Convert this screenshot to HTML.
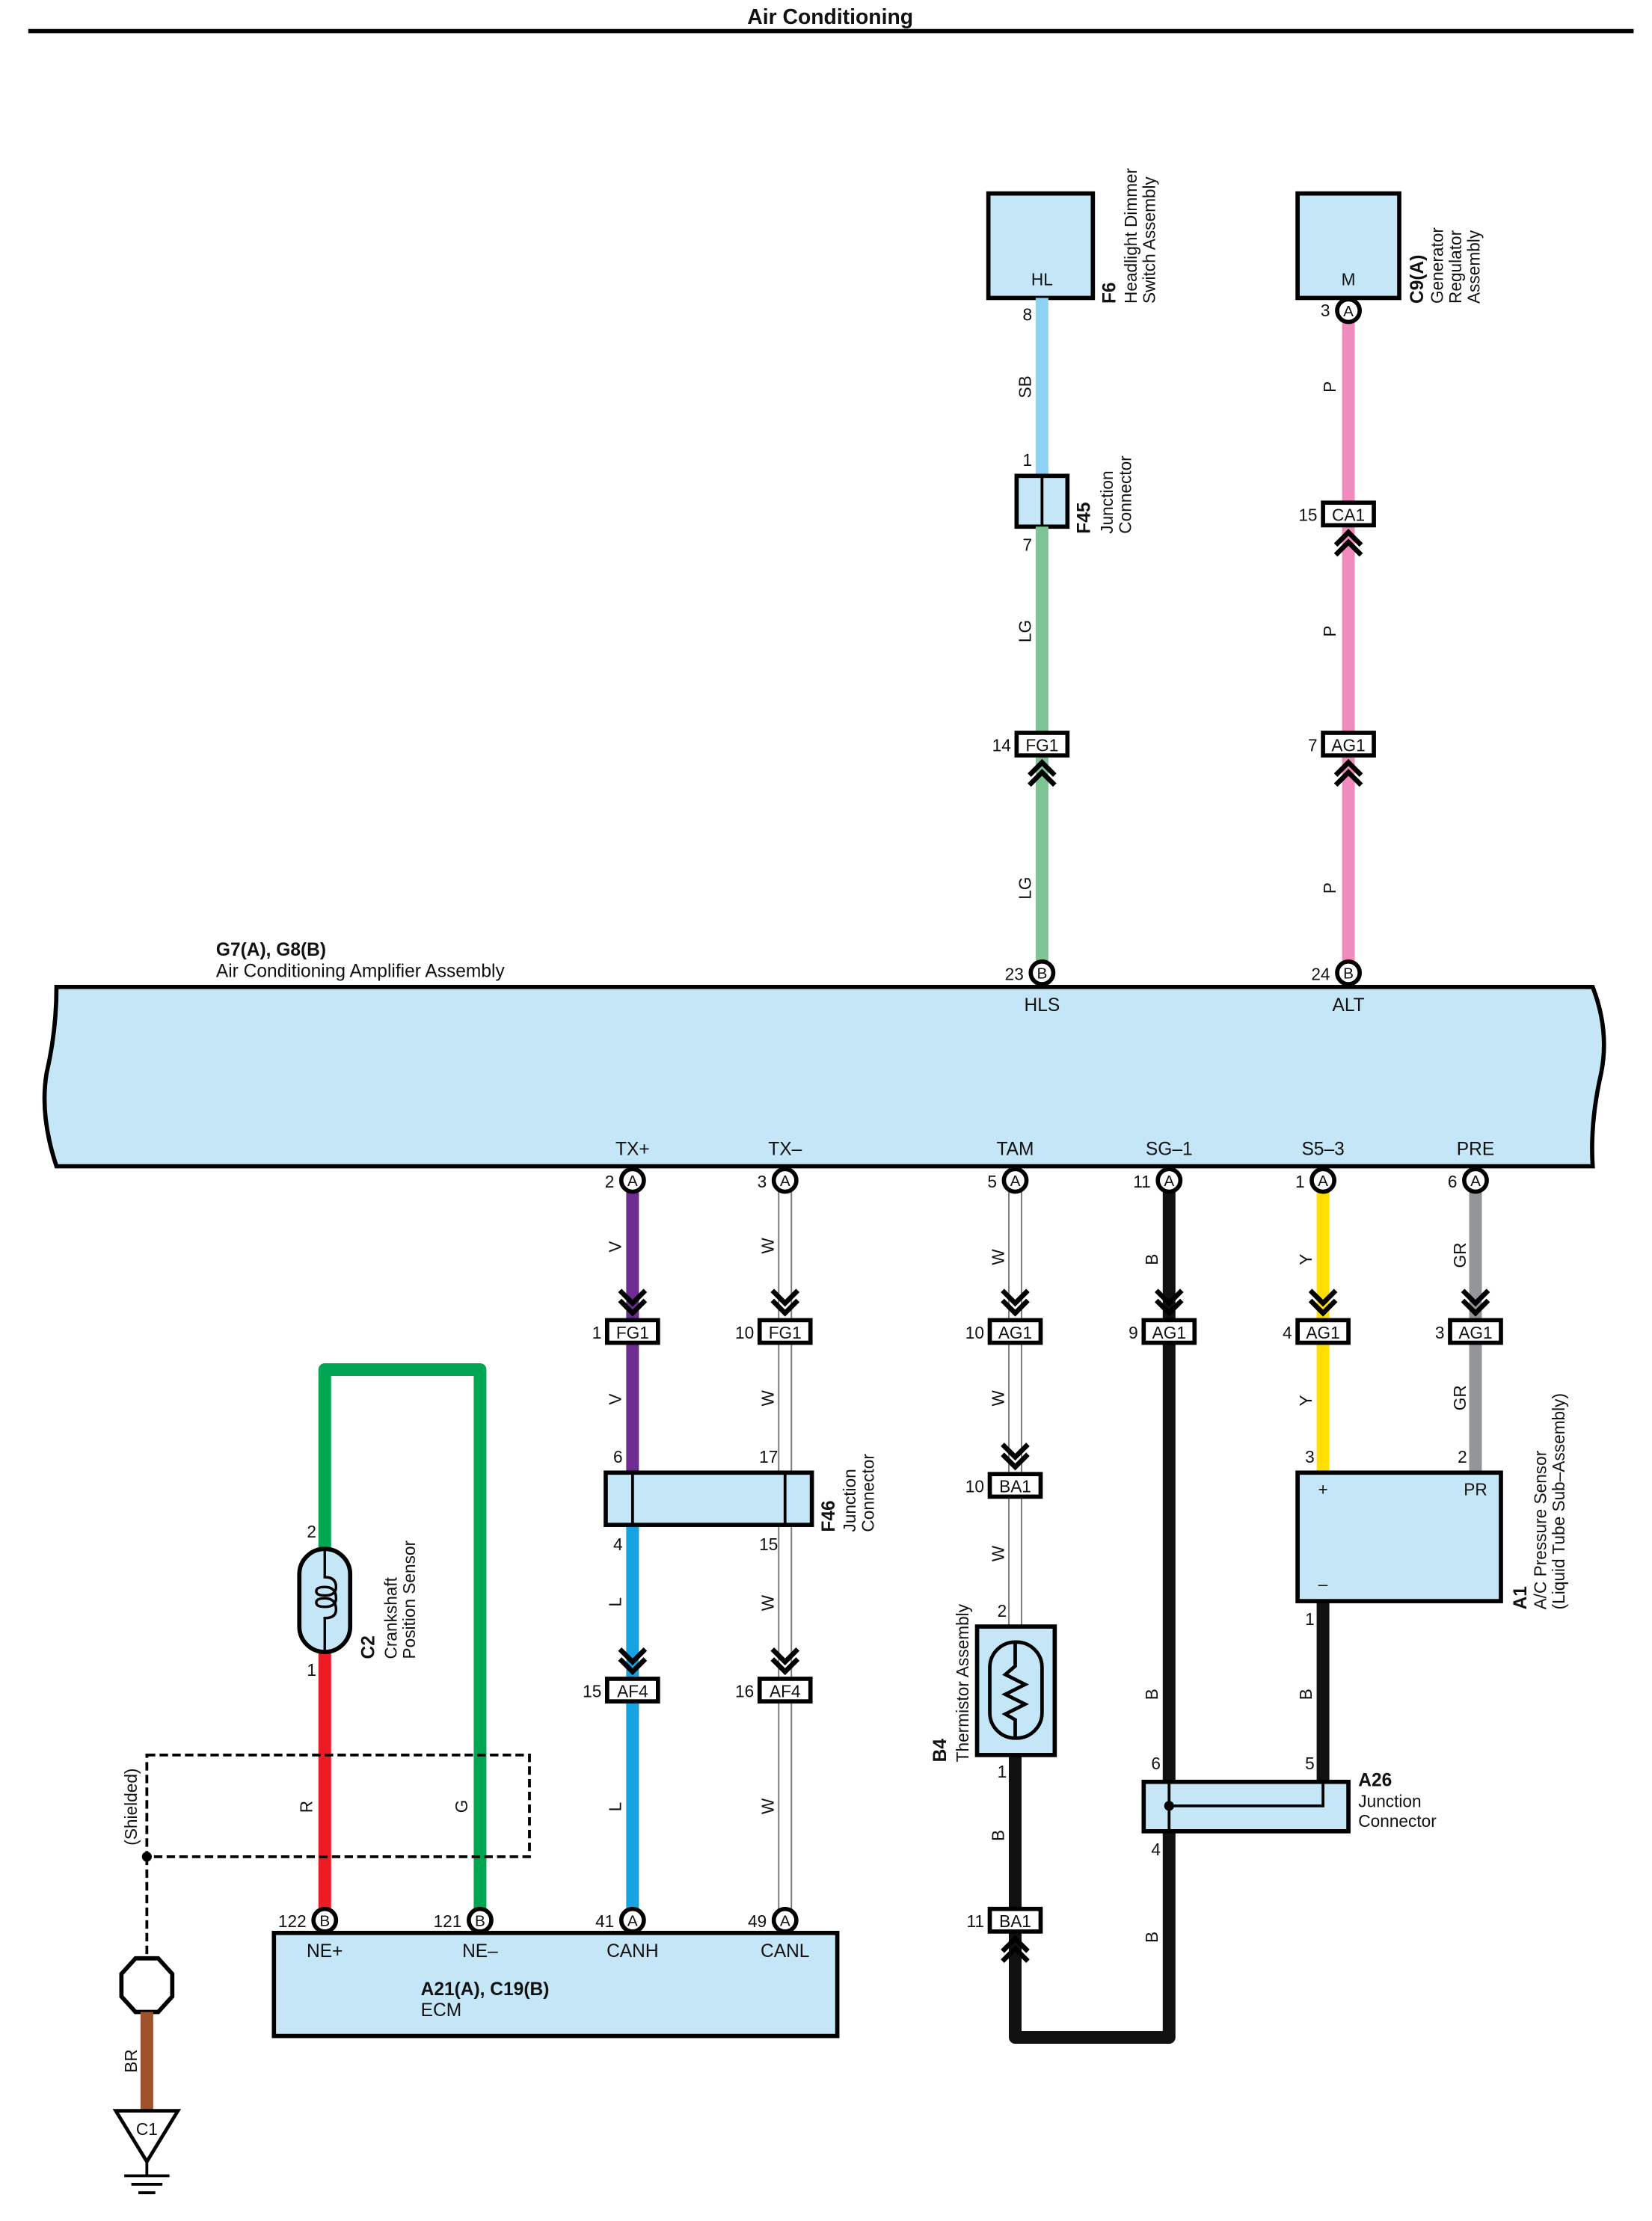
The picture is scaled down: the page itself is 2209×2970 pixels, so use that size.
<!DOCTYPE html>
<html><head><meta charset="utf-8"><style>
html,body{margin:0;padding:0;background:#fff;}
svg{display:block;}
text{font-family:"Liberation Sans",sans-serif;fill:#111;}
</style></head><body>
<svg width="2209" height="2970" viewBox="0 0 1170 1573" xmlns="http://www.w3.org/2000/svg">
<rect width="1170" height="1573" fill="#fff"/>
<text x="588" y="17" font-size="15" font-weight="bold" text-anchor="middle">Air Conditioning</text>
<line x1="20" y1="22" x2="1157" y2="22" stroke="#000" stroke-width="3"/>

<!-- Big amplifier box -->
<path d="M40,699 L1128,699 Q1140,730 1134,760 Q1126,795 1128,826 L40,826 Q28,790 33,760 Q40,730 40,699 Z" fill="#c5e6f7" stroke="#000" stroke-width="3"/>
<text x="153" y="677" font-size="13" font-weight="bold">G7(A), G8(B)</text>
<text x="153" y="692" font-size="13">Air Conditioning Amplifier Assembly</text>
<text x="738" y="716" font-size="13" text-anchor="middle">HLS</text>
<text x="955" y="716" font-size="13" text-anchor="middle">ALT</text>
<g font-size="13" text-anchor="middle">
<text x="448" y="818">TX+</text><text x="556" y="818">TX–</text><text x="719" y="818">TAM</text>
<text x="828" y="818">SG–1</text><text x="937" y="818">S5–3</text><text x="1045" y="818">PRE</text>
</g>

<!-- F6 -->
<rect x="700" y="137" width="74" height="74" fill="#c5e6f7" stroke="#000" stroke-width="3"/>
<text x="738" y="202" font-size="12" text-anchor="middle">HL</text>
<g transform="translate(790,215) rotate(-90)"><text font-size="13" font-weight="bold">F6</text></g>
<g transform="translate(805,215) rotate(-90)"><text font-size="12">Headlight Dimmer</text></g>
<g transform="translate(818,215) rotate(-90)"><text font-size="12">Switch Assembly</text></g>
<text x="731" y="227" font-size="12" text-anchor="end">8</text>
<line x1="738" y1="211" x2="738" y2="337" stroke="#8fd3f4" stroke-width="9"/>
<g transform="translate(730,282) rotate(-90)"><text font-size="12">SB</text></g>
<text x="731" y="330" font-size="12" text-anchor="end">1</text>
<rect x="720" y="337" width="36" height="36" fill="#c5e6f7" stroke="#000" stroke-width="3"/>
<line x1="738" y1="337" x2="738" y2="373" stroke="#000" stroke-width="2"/>
<g transform="translate(772,378) rotate(-90)"><text font-size="13" font-weight="bold">F45</text></g>
<g transform="translate(788,378) rotate(-90)"><text font-size="12">Junction</text></g>
<g transform="translate(801,378) rotate(-90)"><text font-size="12">Connector</text></g>
<text x="731" y="390" font-size="12" text-anchor="end">7</text>
<line x1="738" y1="373" x2="738" y2="519" stroke="#7dc592" stroke-width="9"/>
<line x1="738" y1="535" x2="738" y2="681" stroke="#7dc592" stroke-width="9"/>
<g transform="translate(730,455) rotate(-90)"><text font-size="12">LG</text></g>
<g transform="translate(730,637) rotate(-90)"><text font-size="12">LG</text></g>

<!-- C9 -->
<rect x="919" y="137" width="72" height="74" fill="#c5e6f7" stroke="#000" stroke-width="3"/>
<text x="955" y="202" font-size="12" text-anchor="middle">M</text>
<g transform="translate(1008,215) rotate(-90)"><text font-size="13" font-weight="bold">C9(A)</text></g>
<g transform="translate(1022,215) rotate(-90)"><text font-size="12">Generator</text></g>
<g transform="translate(1035,215) rotate(-90)"><text font-size="12">Regulator</text></g>
<g transform="translate(1048,215) rotate(-90)"><text font-size="12">Assembly</text></g>
<line x1="955" y1="228" x2="955" y2="681" stroke="#f28bbd" stroke-width="9"/>
<g transform="translate(946,278) rotate(-90)"><text font-size="12">P</text></g>
<g transform="translate(946,451) rotate(-90)"><text font-size="12">P</text></g>
<g transform="translate(946,633) rotate(-90)"><text font-size="12">P</text></g>

<!-- bottom wires -->
<line x1="448" y1="844" x2="448" y2="1043" stroke="#6e2b90" stroke-width="9"/>
<line x1="448" y1="1080" x2="448" y2="1352" stroke="#15a3e1" stroke-width="9"/>
<line x1="556" y1="844" x2="556" y2="1352" stroke="#777" stroke-width="10"/>
<line x1="556" y1="844" x2="556" y2="1352" stroke="#fff" stroke-width="8"/>
<line x1="719" y1="844" x2="719" y2="1152" stroke="#777" stroke-width="10"/>
<line x1="719" y1="844" x2="719" y2="1152" stroke="#fff" stroke-width="8"/>
<line x1="828" y1="844" x2="828" y2="1262" stroke="#111" stroke-width="9"/>
<path d="M719,1243 L719,1443 L828,1443 L828,1297" fill="none" stroke="#111" stroke-width="9" stroke-linejoin="round"/>
<line x1="937" y1="844" x2="937" y2="1043" stroke="#ffde00" stroke-width="9"/>
<line x1="937" y1="1134" x2="937" y2="1262" stroke="#111" stroke-width="9"/>
<line x1="1045" y1="844" x2="1045" y2="1043" stroke="#939598" stroke-width="9"/>

<g font-size="12">
<g transform="translate(440,887) rotate(-90)"><text>V</text></g>
<g transform="translate(440,995) rotate(-90)"><text>V</text></g>
<g transform="translate(440,1138) rotate(-90)"><text>L</text></g>
<g transform="translate(440,1283) rotate(-90)"><text>L</text></g>
<g transform="translate(548,888) rotate(-90)"><text>W</text></g>
<g transform="translate(548,996) rotate(-90)"><text>W</text></g>
<g transform="translate(548,1141) rotate(-90)"><text>W</text></g>
<g transform="translate(548,1285) rotate(-90)"><text>W</text></g>
<g transform="translate(711,896) rotate(-90)"><text>W</text></g>
<g transform="translate(711,996) rotate(-90)"><text>W</text></g>
<g transform="translate(711,1106) rotate(-90)"><text>W</text></g>
<g transform="translate(711,1304) rotate(-90)"><text>B</text></g>
<g transform="translate(820,896) rotate(-90)"><text>B</text></g>
<g transform="translate(820,1204) rotate(-90)"><text>B</text></g>
<g transform="translate(820,1376) rotate(-90)"><text>B</text></g>
<g transform="translate(929,896) rotate(-90)"><text>Y</text></g>
<g transform="translate(929,996) rotate(-90)"><text>Y</text></g>
<g transform="translate(929,1204) rotate(-90)"><text>B</text></g>
<g transform="translate(1038,898) rotate(-90)"><text>GR</text></g>
<g transform="translate(1038,999) rotate(-90)"><text>GR</text></g>
</g>

<!-- F46 -->
<rect x="429" y="1043" width="146" height="37" fill="#c5e6f7" stroke="#000" stroke-width="3"/>
<line x1="448" y1="1043" x2="448" y2="1080" stroke="#000" stroke-width="2"/>
<line x1="556" y1="1043" x2="556" y2="1080" stroke="#000" stroke-width="2"/>
<g font-size="12" text-anchor="end">
<text x="441" y="1036">6</text><text x="551" y="1036">17</text>
<text x="441" y="1098">4</text><text x="551" y="1098">15</text>
</g>
<g transform="translate(591,1085) rotate(-90)"><text font-size="13" font-weight="bold">F46</text></g>
<g transform="translate(606,1085) rotate(-90)"><text font-size="12">Junction</text></g>
<g transform="translate(619,1085) rotate(-90)"><text font-size="12">Connector</text></g>

<!-- Thermistor -->
<text x="713" y="1145" font-size="12" text-anchor="end">2</text>
<rect x="692" y="1152" width="55" height="91" fill="#c5e6f7" stroke="#000" stroke-width="3"/>
<rect x="701" y="1163" width="37" height="68" rx="18" fill="none" stroke="#000" stroke-width="2.5"/>
<path d="M719,1163 L719,1180 L712,1186 L726,1193 L712,1200 L726,1207 L712,1214 L719,1218 L719,1231" fill="none" stroke="#000" stroke-width="2.5"/>
<text x="713" y="1259" font-size="12" text-anchor="end">1</text>
<g transform="translate(670,1248) rotate(-90)"><text font-size="13" font-weight="bold">B4</text></g>
<g transform="translate(686,1248) rotate(-90)"><text font-size="12">Thermistor Assembly</text></g>

<!-- A26 -->
<text x="822" y="1253" font-size="12" text-anchor="end">6</text>
<text x="931" y="1253" font-size="12" text-anchor="end">5</text>
<text x="822" y="1314" font-size="12" text-anchor="end">4</text>
<rect x="810" y="1262" width="145" height="35" fill="#c5e6f7" stroke="#000" stroke-width="3"/>
<path d="M828,1279 L937,1279 L937,1262" fill="none" stroke="#000" stroke-width="2"/>
<line x1="828" y1="1262" x2="828" y2="1297" stroke="#000" stroke-width="2"/>
<circle cx="828" cy="1279" r="3.5" fill="#000"/>
<text x="962" y="1265" font-size="13" font-weight="bold">A26</text>
<text x="962" y="1280" font-size="12">Junction</text>
<text x="962" y="1294" font-size="12">Connector</text>

<!-- A1 -->
<text x="931" y="1036" font-size="12" text-anchor="end">3</text>
<text x="1039" y="1036" font-size="12" text-anchor="end">2</text>
<rect x="919" y="1043" width="144" height="91" fill="#c5e6f7" stroke="#000" stroke-width="3"/>
<text x="937" y="1059" font-size="12" text-anchor="middle">+</text>
<text x="1045" y="1059" font-size="12" text-anchor="middle">PR</text>
<text x="937" y="1126" font-size="12" text-anchor="middle">–</text>
<text x="931" y="1151" font-size="12" text-anchor="end">1</text>
<g transform="translate(1081,1140) rotate(-90)"><text font-size="13" font-weight="bold">A1</text></g>
<g transform="translate(1095,1140) rotate(-90)"><text font-size="12">A/C Pressure Sensor</text></g>
<g transform="translate(1108,1140) rotate(-90)"><text font-size="12">(Liquid Tube Sub–Assembly)</text></g>

<!-- Crankshaft -->
<path d="M340,1352 L340,970 L230,970 L230,1097" fill="none" stroke="#00a651" stroke-width="9" stroke-linejoin="round"/>
<line x1="230" y1="1170" x2="230" y2="1352" stroke="#ed1c24" stroke-width="9"/>
<text x="224" y="1089" font-size="12" text-anchor="end">2</text>
<text x="224" y="1187" font-size="12" text-anchor="end">1</text>
<rect x="212" y="1097" width="36" height="73" rx="18" fill="#c5e6f7" stroke="#000" stroke-width="3"/>
<path d="M230,1097 L230,1117 Q238,1117 238,1124 Q238,1130 230,1130 Q224,1130 224,1127 Q224,1124 230,1124 Q238,1124 238,1132 Q238,1138 230,1138 Q224,1138 224,1135 Q224,1132 230,1132 Q238,1132 238,1140 Q238,1146 230,1146 L230,1170" fill="none" stroke="#000" stroke-width="1.8"/>
<g transform="translate(265,1175) rotate(-90)"><text font-size="13" font-weight="bold">C2</text></g>
<g transform="translate(281,1175) rotate(-90)"><text font-size="12">Crankshaft</text></g>
<g transform="translate(294,1175) rotate(-90)"><text font-size="12">Position Sensor</text></g>
<g transform="translate(221,1284) rotate(-90)"><text font-size="12">R</text></g>
<g transform="translate(331,1284) rotate(-90)"><text font-size="12">G</text></g>
<rect x="104" y="1243" width="271" height="72" fill="none" stroke="#000" stroke-width="2" stroke-dasharray="6,3"/>
<line x1="104" y1="1315" x2="104" y2="1386" stroke="#000" stroke-width="2" stroke-dasharray="6,3"/>
<circle cx="104" cy="1315" r="3.5" fill="#000"/>
<g transform="translate(97,1307) rotate(-90)"><text font-size="12">(Shielded)</text></g>
<polygon points="96,1387 112,1387 122,1398 122,1414 112,1425 96,1425 86,1414 86,1398" fill="#fff" stroke="#000" stroke-width="3"/>
<line x1="104" y1="1425" x2="104" y2="1494" stroke="#a0522d" stroke-width="9"/>
<g transform="translate(97,1468) rotate(-90)"><text font-size="12">BR</text></g>
<polygon points="82,1495 126,1495 104,1531" fill="#fff" stroke="#000" stroke-width="2.5"/>
<text x="104" y="1512" font-size="12" text-anchor="middle">C1</text>
<line x1="104" y1="1531" x2="104" y2="1541" stroke="#000" stroke-width="2"/>
<line x1="88" y1="1541" x2="120" y2="1541" stroke="#000" stroke-width="2"/>
<line x1="93" y1="1547" x2="115" y2="1547" stroke="#000" stroke-width="2"/>
<line x1="98" y1="1553" x2="110" y2="1553" stroke="#000" stroke-width="2"/>

<!-- ECM -->
<rect x="194" y="1369" width="399" height="73" fill="#c5e6f7" stroke="#000" stroke-width="3"/>
<g font-size="13" text-anchor="middle">
<text x="230" y="1386">NE+</text><text x="340" y="1386">NE–</text><text x="448" y="1386">CANH</text><text x="556" y="1386">CANL</text>
</g>
<text x="298" y="1413" font-size="13" font-weight="bold">A21(A), C19(B)</text>
<text x="298" y="1428" font-size="13">ECM</text>

<!-- Connector boxes -->
<g stroke="#000" stroke-width="3" fill="#fff">
<rect x="720" y="519" width="36" height="16"/>
<rect x="937" y="356" width="36" height="16"/>
<rect x="937" y="519" width="36" height="16"/>
<rect x="430" y="935" width="36" height="16"/>
<rect x="538" y="935" width="36" height="16"/>
<rect x="701" y="935" width="36" height="16"/>
<rect x="810" y="935" width="36" height="16"/>
<rect x="919" y="935" width="36" height="16"/>
<rect x="1027" y="935" width="36" height="16"/>
<rect x="701" y="1044" width="36" height="16"/>
<rect x="430" y="1189" width="36" height="16"/>
<rect x="538" y="1189" width="36" height="16"/>
<rect x="701" y="1352" width="36" height="16"/>
</g>
<g font-size="12" text-anchor="middle">
<text x="738" y="532">FG1</text><text x="955" y="369">CA1</text><text x="955" y="532">AG1</text>
<text x="448" y="948">FG1</text><text x="556" y="948">FG1</text><text x="719" y="948">AG1</text>
<text x="828" y="948">AG1</text><text x="937" y="948">AG1</text><text x="1045" y="948">AG1</text>
<text x="719" y="1057">BA1</text><text x="448" y="1202">AF4</text><text x="556" y="1202">AF4</text>
<text x="719" y="1365">BA1</text>
</g>
<g font-size="12" text-anchor="end">
<text x="716" y="532">14</text><text x="933" y="369">15</text><text x="933" y="532">7</text>
<text x="426" y="948">1</text><text x="534" y="948">10</text><text x="697" y="948">10</text>
<text x="806" y="948">9</text><text x="915" y="948">4</text><text x="1023" y="948">3</text>
<text x="697" y="1057">10</text><text x="426" y="1202">15</text><text x="534" y="1202">16</text>
<text x="697" y="1365">11</text>
</g>

<!-- Chevrons -->
<g fill="none" stroke="#000" stroke-width="3.5">
<path d="M729,549 L738,540 L747,549 M729,556 L738,547 L747,556"/>
<path d="M946,386 L955,377 L964,386 M946,393 L955,384 L964,393"/>
<path d="M946,549 L955,540 L964,549 M946,556 L955,547 L964,556"/>
<path d="M710,1382 L719,1373 L728,1382 M710,1389 L719,1380 L728,1389"/>
<path d="M439,914 L448,923 L457,914 M439,921 L448,930 L457,921"/>
<path d="M547,914 L556,923 L565,914 M547,921 L556,930 L565,921"/>
<path d="M710,914 L719,923 L728,914 M710,921 L719,930 L728,921"/>
<path d="M819,914 L828,923 L837,914 M819,921 L828,930 L837,921"/>
<path d="M928,914 L937,923 L946,914 M928,921 L937,930 L946,921"/>
<path d="M1036,914 L1045,923 L1054,914 M1036,921 L1045,930 L1054,921"/>
<path d="M710,1023 L719,1032 L728,1023 M710,1030 L719,1039 L728,1030"/>
<path d="M439,1168 L448,1177 L457,1168 M439,1175 L448,1184 L457,1175"/>
<path d="M547,1168 L556,1177 L565,1168 M547,1175 L556,1184 L565,1175"/>
</g>

<!-- Pin circles -->
<g stroke="#000" stroke-width="3" fill="#fff">
<circle cx="955" cy="220" r="8"/>
<circle cx="738" cy="689" r="8"/><circle cx="955" cy="689" r="8"/>
<circle cx="448" cy="836" r="8"/><circle cx="556" cy="836" r="8"/><circle cx="719" cy="836" r="8"/>
<circle cx="828" cy="836" r="8"/><circle cx="937" cy="836" r="8"/><circle cx="1045" cy="836" r="8"/>
<circle cx="230" cy="1360" r="8"/><circle cx="340" cy="1360" r="8"/>
<circle cx="448" cy="1360" r="8"/><circle cx="556" cy="1360" r="8"/>
</g>
<g font-size="11" text-anchor="middle">
<text x="955" y="224">A</text>
<text x="738" y="693">B</text><text x="955" y="693">B</text>
<text x="448" y="840">A</text><text x="556" y="840">A</text><text x="719" y="840">A</text>
<text x="828" y="840">A</text><text x="937" y="840">A</text><text x="1045" y="840">A</text>
<text x="230" y="1364">B</text><text x="340" y="1364">B</text><text x="448" y="1364">A</text><text x="556" y="1364">A</text>
</g>
<g font-size="12" text-anchor="end">
<text x="942" y="224">3</text>
<text x="725" y="694">23</text><text x="942" y="694">24</text>
<text x="435" y="841">2</text><text x="543" y="841">3</text><text x="706" y="841">5</text>
<text x="815" y="841">11</text><text x="924" y="841">1</text><text x="1032" y="841">6</text>
<text x="217" y="1365">122</text><text x="327" y="1365">121</text><text x="435" y="1365">41</text><text x="543" y="1365">49</text>
</g>
</svg>
</body></html>
